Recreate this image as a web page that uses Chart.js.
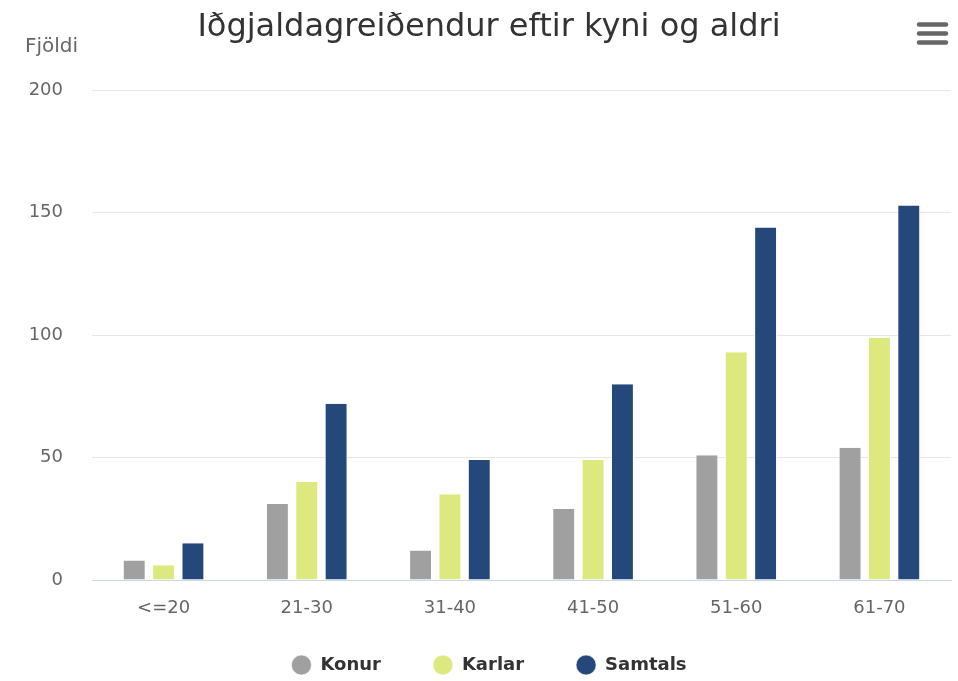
<!DOCTYPE html>
<html>
<head>
    <meta charset="utf-8"/>
    <title>Iðgjaldagreiðendur eftir kyni og aldri</title>
    <script src="https://cdn.jsdelivr.net/npm/chart.js"></script>
    <style>
        body {
            margin: 0;
            background: #ffffff;
        }
        #chart-container {
            position: relative;
            width: 958px;
            height: 681px;
        }
    </style>
</head>
<body>
    <div id="chart-container">
        <canvas id="iidgjaldChart"></canvas>
    </div>

    <script>
        // Gögn lesin af myndinni
        const flokkar = ['<=20', '21-30', '31-40', '41-50', '51-60', '61-70'];
        const konur = [8, 31, 12, 29, 51, 54];
        const karlar = [6, 40, 35, 49, 93, 99];
        const samtals = [15, 72, 49, 80, 144, 153];
        const yAsTikk = [0, 50, 100, 150, 200];

        Chart.defaults.font.family = '"DejaVu Sans", sans-serif';

        // Ás-titill "Fjöldi" efst til vinstri og valmyndartákn efst til hægri
        const aukaTeikning = {
            id: 'aukaTeikning',
            afterDraw(chart) {
                const ctx = chart.ctx;
                ctx.save();
                ctx.font = '20px "DejaVu Sans", sans-serif';
                ctx.fillStyle = '#666666';
                ctx.textAlign = 'left';
                ctx.textBaseline = 'middle';
                ctx.fillText('Fjöldi', 25, 47);

                ctx.strokeStyle = '#666666';
                ctx.lineWidth = 4.5;
                ctx.lineCap = 'round';
                [24.5, 33.5, 42.5].forEach(y => {
                    ctx.beginPath();
                    ctx.moveTo(919, y);
                    ctx.lineTo(946, y);
                    ctx.stroke();
                });
                ctx.restore();
            }
        };

        // Skýringin: föst hæð og færð aðeins upp eftir útlitsreikning
        const skyringStada = {
            id: 'skyringStada',
            beforeInit(chart) {
                const fit = chart.legend.fit;
                chart.legend.fit = function () {
                    fit.bind(chart.legend)();
                    this.height = 60;
                };
            },
            afterLayout(chart) {
                chart.legend.top = 604;
                chart.legend.bottom = 681;
            }
        };

        function setupChart() {
            const ctx = document.getElementById('iidgjaldChart').getContext('2d');
            new Chart(ctx, {
                type: 'bar',
                data: {
                    labels: flokkar,
                    datasets: [
                        { label: 'Konur', data: konur, backgroundColor: '#a0a0a0' },
                        { label: 'Karlar', data: karlar, backgroundColor: '#dde87e' },
                        { label: 'Samtals', data: samtals, backgroundColor: '#234879' }
                    ].map(d => Object.assign(d, {
                        borderColor: '#ffffff',
                        borderWidth: { top: 0, left: 1, right: 1, bottom: 0 },
                        categoryPercentage: 0.615,
                        barPercentage: 0.78
                    }))
                },
                options: {
                    responsive: true,
                    maintainAspectRatio: false,
                    animation: false,
                    layout: {
                        padding: { left: 27, right: 7, top: 0, bottom: 0 }
                    },
                    plugins: {
                        title: {
                            display: true,
                            text: 'Iðgjaldagreiðendur eftir kyni og aldri',
                            color: '#333333',
                            font: { size: 32, weight: 'normal' },
                            padding: { top: 8, bottom: 44 }
                        },
                        legend: {
                            position: 'bottom',
                            labels: {
                                usePointStyle: true,
                                pointStyle: 'circle',
                                pointStyleWidth: 20,
                                boxHeight: 14,
                                padding: 52,
                                color: '#333333',
                                font: { size: 18, weight: 'bold' }
                            }
                        }
                    },
                    scales: {
                        x: {
                            grid: { display: false },
                            border: { display: true, color: '#ccd6eb', width: 1 },
                            ticks: {
                                color: '#666666',
                                font: { size: 18 },
                                padding: 10,
                                maxRotation: 0
                            },
                            afterFit: s => { s.height = 41; }
                        },
                        y: {
                            min: yAsTikk[0],
                            max: yAsTikk[yAsTikk.length - 1],
                            grid: { color: '#e6e6e6', lineWidth: 1, drawTicks: false },
                            border: { display: false },
                            ticks: {
                                stepSize: yAsTikk[1] - yAsTikk[0],
                                color: '#666666',
                                font: { size: 18 },
                                padding: 29
                            },
                            afterFit: s => { s.width = 65; }
                        }
                    }
                },
                plugins: [aukaTeikning, skyringStada]
            });
        }

        document.addEventListener('DOMContentLoaded', setupChart);
    </script>
</body>
</html>
